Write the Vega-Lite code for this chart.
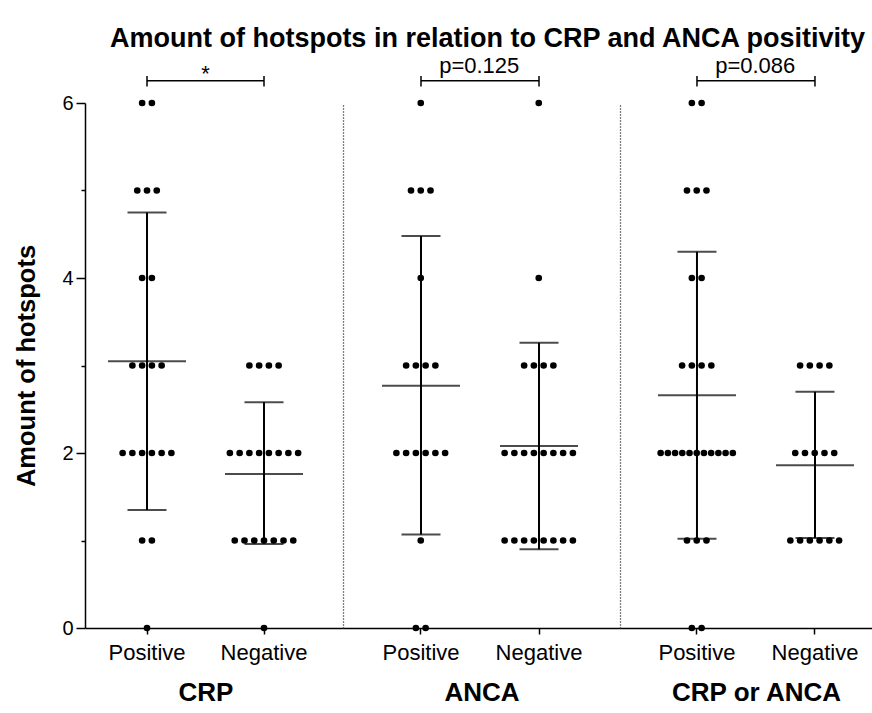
{
  "$schema": "https://vega.github.io/schema/vega-lite/v6.json",
  "padding": {"left": 14, "top": 25, "right": 0, "bottom": 0},
  "background": "white",
  "config": {
    "font": "Liberation Sans",
    "view": {"stroke": null},
    "axis": {"grid": false, "domainColor": "black", "tickColor": "black", "labelColor": "black", "titleColor": "black", "domainWidth": 1.5, "tickWidth": 1.5, "labelFont": "Liberation Sans", "titleFont": "Liberation Sans"}
  },
  "title": {"text": "Amount of hotspots in relation to CRP and ANCA positivity", "fontSize": 27, "fontWeight": "bold", "anchor": "middle", "color": "black", "offset": 2, "dx": 44},
  "datasets": {
    "dots": [
      {"g": "CRP", "s": "Positive", "v": 6}, {"g": "CRP", "s": "Positive", "v": 6},
      {"g": "CRP", "s": "Positive", "v": 5}, {"g": "CRP", "s": "Positive", "v": 5}, {"g": "CRP", "s": "Positive", "v": 5},
      {"g": "CRP", "s": "Positive", "v": 4}, {"g": "CRP", "s": "Positive", "v": 4},
      {"g": "CRP", "s": "Positive", "v": 3}, {"g": "CRP", "s": "Positive", "v": 3}, {"g": "CRP", "s": "Positive", "v": 3}, {"g": "CRP", "s": "Positive", "v": 3},
      {"g": "CRP", "s": "Positive", "v": 2}, {"g": "CRP", "s": "Positive", "v": 2}, {"g": "CRP", "s": "Positive", "v": 2}, {"g": "CRP", "s": "Positive", "v": 2}, {"g": "CRP", "s": "Positive", "v": 2}, {"g": "CRP", "s": "Positive", "v": 2},
      {"g": "CRP", "s": "Positive", "v": 1}, {"g": "CRP", "s": "Positive", "v": 1},
      {"g": "CRP", "s": "Positive", "v": 0},
      {"g": "CRP", "s": "Negative", "v": 3}, {"g": "CRP", "s": "Negative", "v": 3}, {"g": "CRP", "s": "Negative", "v": 3}, {"g": "CRP", "s": "Negative", "v": 3},
      {"g": "CRP", "s": "Negative", "v": 2}, {"g": "CRP", "s": "Negative", "v": 2}, {"g": "CRP", "s": "Negative", "v": 2}, {"g": "CRP", "s": "Negative", "v": 2}, {"g": "CRP", "s": "Negative", "v": 2}, {"g": "CRP", "s": "Negative", "v": 2}, {"g": "CRP", "s": "Negative", "v": 2}, {"g": "CRP", "s": "Negative", "v": 2},
      {"g": "CRP", "s": "Negative", "v": 1}, {"g": "CRP", "s": "Negative", "v": 1}, {"g": "CRP", "s": "Negative", "v": 1}, {"g": "CRP", "s": "Negative", "v": 1}, {"g": "CRP", "s": "Negative", "v": 1}, {"g": "CRP", "s": "Negative", "v": 1}, {"g": "CRP", "s": "Negative", "v": 1},
      {"g": "CRP", "s": "Negative", "v": 0},
      {"g": "ANCA", "s": "Positive", "v": 6},
      {"g": "ANCA", "s": "Positive", "v": 5}, {"g": "ANCA", "s": "Positive", "v": 5}, {"g": "ANCA", "s": "Positive", "v": 5},
      {"g": "ANCA", "s": "Positive", "v": 4},
      {"g": "ANCA", "s": "Positive", "v": 3}, {"g": "ANCA", "s": "Positive", "v": 3}, {"g": "ANCA", "s": "Positive", "v": 3}, {"g": "ANCA", "s": "Positive", "v": 3},
      {"g": "ANCA", "s": "Positive", "v": 2}, {"g": "ANCA", "s": "Positive", "v": 2}, {"g": "ANCA", "s": "Positive", "v": 2}, {"g": "ANCA", "s": "Positive", "v": 2}, {"g": "ANCA", "s": "Positive", "v": 2}, {"g": "ANCA", "s": "Positive", "v": 2},
      {"g": "ANCA", "s": "Positive", "v": 1},
      {"g": "ANCA", "s": "Positive", "v": 0}, {"g": "ANCA", "s": "Positive", "v": 0},
      {"g": "ANCA", "s": "Negative", "v": 6},
      {"g": "ANCA", "s": "Negative", "v": 4},
      {"g": "ANCA", "s": "Negative", "v": 3}, {"g": "ANCA", "s": "Negative", "v": 3}, {"g": "ANCA", "s": "Negative", "v": 3}, {"g": "ANCA", "s": "Negative", "v": 3},
      {"g": "ANCA", "s": "Negative", "v": 2}, {"g": "ANCA", "s": "Negative", "v": 2}, {"g": "ANCA", "s": "Negative", "v": 2}, {"g": "ANCA", "s": "Negative", "v": 2}, {"g": "ANCA", "s": "Negative", "v": 2}, {"g": "ANCA", "s": "Negative", "v": 2}, {"g": "ANCA", "s": "Negative", "v": 2}, {"g": "ANCA", "s": "Negative", "v": 2},
      {"g": "ANCA", "s": "Negative", "v": 1}, {"g": "ANCA", "s": "Negative", "v": 1}, {"g": "ANCA", "s": "Negative", "v": 1}, {"g": "ANCA", "s": "Negative", "v": 1}, {"g": "ANCA", "s": "Negative", "v": 1}, {"g": "ANCA", "s": "Negative", "v": 1}, {"g": "ANCA", "s": "Negative", "v": 1}, {"g": "ANCA", "s": "Negative", "v": 1},
      {"g": "CRP or ANCA", "s": "Positive", "v": 6}, {"g": "CRP or ANCA", "s": "Positive", "v": 6},
      {"g": "CRP or ANCA", "s": "Positive", "v": 5}, {"g": "CRP or ANCA", "s": "Positive", "v": 5}, {"g": "CRP or ANCA", "s": "Positive", "v": 5},
      {"g": "CRP or ANCA", "s": "Positive", "v": 4}, {"g": "CRP or ANCA", "s": "Positive", "v": 4},
      {"g": "CRP or ANCA", "s": "Positive", "v": 3}, {"g": "CRP or ANCA", "s": "Positive", "v": 3}, {"g": "CRP or ANCA", "s": "Positive", "v": 3}, {"g": "CRP or ANCA", "s": "Positive", "v": 3},
      {"g": "CRP or ANCA", "s": "Positive", "v": 2}, {"g": "CRP or ANCA", "s": "Positive", "v": 2}, {"g": "CRP or ANCA", "s": "Positive", "v": 2}, {"g": "CRP or ANCA", "s": "Positive", "v": 2}, {"g": "CRP or ANCA", "s": "Positive", "v": 2}, {"g": "CRP or ANCA", "s": "Positive", "v": 2}, {"g": "CRP or ANCA", "s": "Positive", "v": 2}, {"g": "CRP or ANCA", "s": "Positive", "v": 2}, {"g": "CRP or ANCA", "s": "Positive", "v": 2}, {"g": "CRP or ANCA", "s": "Positive", "v": 2}, {"g": "CRP or ANCA", "s": "Positive", "v": 2},
      {"g": "CRP or ANCA", "s": "Positive", "v": 1}, {"g": "CRP or ANCA", "s": "Positive", "v": 1}, {"g": "CRP or ANCA", "s": "Positive", "v": 1},
      {"g": "CRP or ANCA", "s": "Positive", "v": 0}, {"g": "CRP or ANCA", "s": "Positive", "v": 0},
      {"g": "CRP or ANCA", "s": "Negative", "v": 3}, {"g": "CRP or ANCA", "s": "Negative", "v": 3}, {"g": "CRP or ANCA", "s": "Negative", "v": 3}, {"g": "CRP or ANCA", "s": "Negative", "v": 3},
      {"g": "CRP or ANCA", "s": "Negative", "v": 2}, {"g": "CRP or ANCA", "s": "Negative", "v": 2}, {"g": "CRP or ANCA", "s": "Negative", "v": 2}, {"g": "CRP or ANCA", "s": "Negative", "v": 2}, {"g": "CRP or ANCA", "s": "Negative", "v": 2},
      {"g": "CRP or ANCA", "s": "Negative", "v": 1}, {"g": "CRP or ANCA", "s": "Negative", "v": 1}, {"g": "CRP or ANCA", "s": "Negative", "v": 1}, {"g": "CRP or ANCA", "s": "Negative", "v": 1}, {"g": "CRP or ANCA", "s": "Negative", "v": 1}, {"g": "CRP or ANCA", "s": "Negative", "v": 1}
    ],
    "stats": [
      {"g": "CRP", "s": "Positive", "mean": 3.05, "lo": 1.35, "hi": 4.75},
      {"g": "CRP", "s": "Negative", "mean": 1.76, "lo": 0.96, "hi": 2.58},
      {"g": "ANCA", "s": "Positive", "mean": 2.77, "lo": 1.07, "hi": 4.48},
      {"g": "ANCA", "s": "Negative", "mean": 2.08, "lo": 0.9, "hi": 3.26},
      {"g": "CRP or ANCA", "s": "Positive", "mean": 2.66, "lo": 1.02, "hi": 4.3},
      {"g": "CRP or ANCA", "s": "Negative", "mean": 1.86, "lo": 1.03, "hi": 2.7}
    ],
    "brackets": [
      {"g": "CRP", "a": "Positive", "b": "Negative", "y": 6.255, "ty": 6.25, "label": "*"},
      {"g": "ANCA", "a": "Positive", "b": "Negative", "y": 6.255, "ty": 6.34, "label": "p=0.125"},
      {"g": "CRP or ANCA", "a": "Positive", "b": "Negative", "y": 6.255, "ty": 6.34, "label": "p=0.086"}
    ],
    "ends": [
      {"g": "CRP", "s": "Positive", "y1": 6.19, "y2": 6.31},
      {"g": "CRP", "s": "Negative", "y1": 6.19, "y2": 6.31},
      {"g": "ANCA", "s": "Positive", "y1": 6.19, "y2": 6.31},
      {"g": "ANCA", "s": "Negative", "y1": 6.19, "y2": 6.31},
      {"g": "CRP or ANCA", "s": "Positive", "y1": 6.19, "y2": 6.31},
      {"g": "CRP or ANCA", "s": "Negative", "y1": 6.19, "y2": 6.31}
    ]
  },
  "hconcat": [
    {
      "width": 258, "height": 525,
      "encoding": {
        "x": {"field": "s", "type": "nominal", "scale": {"type": "band", "domain": ["Positive", "Negative"], "paddingInner": 0.5, "paddingOuter": 0.3526, "align": 0.397},
          "axis": {"title": "CRP", "titleFontSize": 26, "titleFontWeight": "bold", "titleX": 120.5, "labelFontSize": 22, "labelAngle": 0, "tickSize": 6, "labelPadding": 8, "titlePadding": 16}}
      },
      "layer": [
        {"data": {"name": "stats"}, "transform": [{"filter": "datum.g === 'CRP'"}], "mark": {"type": "rule", "color": "black", "strokeWidth": 2},
          "encoding": {"y": {"field": "lo", "type": "quantitative", "scale": {"domain": [0, 6], "nice": false},
            "axis": {"title": "Amount of hotspots", "titleFontSize": 25.5, "titleFontWeight": "bold", "titlePadding": 22, "values": [0, 1, 2, 3, 4, 5, 6], "format": "d", "labelExpr": "datum.value % 2 === 0 ? datum.label : ''", "labelFontSize": 20, "labelPadding": 3,
              "tickSize": {"condition": {"test": "datum.value % 2 === 0", "value": 9}, "value": 4}}},
            "y2": {"field": "hi"}}},
        {"data": {"name": "stats"}, "transform": [{"filter": "datum.g === 'CRP'"}], "mark": {"type": "tick", "color": "black", "thickness": 2, "size": 78}, "encoding": {"y": {"field": "mean", "type": "quantitative"}}},
        {"data": {"name": "stats"}, "transform": [{"filter": "datum.g === 'CRP'"}], "mark": {"type": "tick", "color": "black", "thickness": 2, "size": 39}, "encoding": {"y": {"field": "lo", "type": "quantitative"}}},
        {"data": {"name": "stats"}, "transform": [{"filter": "datum.g === 'CRP'"}], "mark": {"type": "tick", "color": "black", "thickness": 2, "size": 39}, "encoding": {"y": {"field": "hi", "type": "quantitative"}}},
        {"data": {"name": "dots"},
          "transform": [
            {"filter": "datum.g === 'CRP'"},
            {"window": [{"op": "row_number", "as": "rank"}], "groupby": ["g", "s", "v"]},
            {"joinaggregate": [{"op": "count", "as": "n"}], "groupby": ["g", "s", "v"]},
            {"calculate": "(datum.rank - (datum.n + 1) / 2) * min(1, 7.4 / max(1, datum.n - 1))", "as": "off"}
          ],
          "mark": {"type": "circle", "size": 44, "color": "black", "opacity": 1},
          "encoding": {"xOffset": {"field": "off", "type": "quantitative", "scale": {"domain": [-6, 6], "range": [-29.25, 87.75]}}, "y": {"field": "v", "type": "quantitative"}}},
        {"data": {"name": "brackets"}, "transform": [{"filter": "datum.g === 'CRP'"}], "mark": {"type": "rule", "color": "black", "strokeWidth": 1.5},
          "encoding": {"x": {"field": "a", "type": "nominal"}, "x2": {"field": "b"}, "y": {"field": "y", "type": "quantitative"}}},
        {"data": {"name": "ends"}, "transform": [{"filter": "datum.g === 'CRP'"}], "mark": {"type": "rule", "color": "black", "strokeWidth": 1.5},
          "encoding": {"y": {"field": "y1", "type": "quantitative"}, "y2": {"field": "y2"}}},
        {"data": {"name": "brackets"}, "transform": [{"filter": "datum.g === 'CRP'"}], "mark": {"type": "text", "fontSize": 22, "baseline": "alphabetic", "align": "center", "color": "black"},
          "encoding": {"x": {"field": "a", "type": "nominal"}, "xOffset": {"datum": 6, "type": "quantitative"}, "y": {"field": "ty", "type": "quantitative"}, "text": {"field": "label"}}}
      ]
    },
    {
      "width": 277, "height": 525,
      "encoding": {
        "x": {"field": "s", "type": "nominal", "scale": {"type": "band", "domain": ["Positive", "Negative"], "paddingInner": 0.5, "paddingOuter": 0.4237, "align": 0.485},
          "axis": {"title": "ANCA", "titleFontSize": 26, "titleFontWeight": "bold", "labelFontSize": 22, "labelAngle": 0, "tickSize": 6, "labelPadding": 8, "titlePadding": 16}}
      },
      "layer": [
        {"data": {"name": "stats"}, "transform": [{"filter": "datum.g === 'ANCA'"}], "mark": {"type": "rule", "color": "black", "strokeWidth": 2},
          "encoding": {"y": {"field": "lo", "type": "quantitative", "scale": {"domain": [0, 6], "nice": false},
            "axis": {"title": null, "labels": false, "ticks": false, "domainDash": [1, 2], "domainWidth": 1.3, "domainColor": "black"}},
            "y2": {"field": "hi"}}},
        {"data": {"name": "stats"}, "transform": [{"filter": "datum.g === 'ANCA'"}], "mark": {"type": "tick", "color": "black", "thickness": 2, "size": 78}, "encoding": {"y": {"field": "mean", "type": "quantitative"}}},
        {"data": {"name": "stats"}, "transform": [{"filter": "datum.g === 'ANCA'"}], "mark": {"type": "tick", "color": "black", "thickness": 2, "size": 39}, "encoding": {"y": {"field": "lo", "type": "quantitative"}}},
        {"data": {"name": "stats"}, "transform": [{"filter": "datum.g === 'ANCA'"}], "mark": {"type": "tick", "color": "black", "thickness": 2, "size": 39}, "encoding": {"y": {"field": "hi", "type": "quantitative"}}},
        {"data": {"name": "dots"},
          "transform": [
            {"filter": "datum.g === 'ANCA'"},
            {"window": [{"op": "row_number", "as": "rank"}], "groupby": ["g", "s", "v"]},
            {"joinaggregate": [{"op": "count", "as": "n"}], "groupby": ["g", "s", "v"]},
            {"calculate": "(datum.rank - (datum.n + 1) / 2) * min(1, 7.4 / max(1, datum.n - 1))", "as": "off"}
          ],
          "mark": {"type": "circle", "size": 44, "color": "black", "opacity": 1},
          "encoding": {"xOffset": {"field": "off", "type": "quantitative", "scale": {"domain": [-6, 6], "range": [-29, 88]}}, "y": {"field": "v", "type": "quantitative"}}},
        {"data": {"name": "brackets"}, "transform": [{"filter": "datum.g === 'ANCA'"}], "mark": {"type": "rule", "color": "black", "strokeWidth": 1.5},
          "encoding": {"x": {"field": "a", "type": "nominal"}, "x2": {"field": "b"}, "y": {"field": "y", "type": "quantitative"}}},
        {"data": {"name": "ends"}, "transform": [{"filter": "datum.g === 'ANCA'"}], "mark": {"type": "rule", "color": "black", "strokeWidth": 1.5},
          "encoding": {"y": {"field": "y1", "type": "quantitative"}, "y2": {"field": "y2"}}},
        {"data": {"name": "brackets"}, "transform": [{"filter": "datum.g === 'ANCA'"}], "mark": {"type": "text", "fontSize": 22, "baseline": "alphabetic", "align": "center", "color": "black"},
          "encoding": {"x": {"field": "a", "type": "nominal"}, "xOffset": {"datum": 6, "type": "quantitative"}, "y": {"field": "ty", "type": "quantitative"}, "text": {"field": "label"}}}
      ]
    },
    {
      "width": 252, "height": 525,
      "encoding": {
        "x": {"field": "s", "type": "nominal", "scale": {"type": "band", "domain": ["Positive", "Negative"], "paddingInner": 0.5, "paddingOuter": 0.3178, "align": 0.633},
          "axis": {"title": "CRP or ANCA", "titleFontSize": 26, "titleFontWeight": "bold", "titleX": 136, "labelFontSize": 22, "labelAngle": 0, "tickSize": 6, "labelPadding": 8, "titlePadding": 16}}
      },
      "layer": [
        {"data": {"name": "stats"}, "transform": [{"filter": "datum.g === 'CRP or ANCA'"}], "mark": {"type": "rule", "color": "black", "strokeWidth": 2},
          "encoding": {"y": {"field": "lo", "type": "quantitative", "scale": {"domain": [0, 6], "nice": false},
            "axis": {"title": null, "labels": false, "ticks": false, "domainDash": [1, 2], "domainWidth": 1.3, "domainColor": "black"}},
            "y2": {"field": "hi"}}},
        {"data": {"name": "stats"}, "transform": [{"filter": "datum.g === 'CRP or ANCA'"}], "mark": {"type": "tick", "color": "black", "thickness": 2, "size": 78}, "encoding": {"y": {"field": "mean", "type": "quantitative"}}},
        {"data": {"name": "stats"}, "transform": [{"filter": "datum.g === 'CRP or ANCA'"}], "mark": {"type": "tick", "color": "black", "thickness": 2, "size": 39}, "encoding": {"y": {"field": "lo", "type": "quantitative"}}},
        {"data": {"name": "stats"}, "transform": [{"filter": "datum.g === 'CRP or ANCA'"}], "mark": {"type": "tick", "color": "black", "thickness": 2, "size": 39}, "encoding": {"y": {"field": "hi", "type": "quantitative"}}},
        {"data": {"name": "dots"},
          "transform": [
            {"filter": "datum.g === 'CRP or ANCA'"},
            {"window": [{"op": "row_number", "as": "rank"}], "groupby": ["g", "s", "v"]},
            {"joinaggregate": [{"op": "count", "as": "n"}], "groupby": ["g", "s", "v"]},
            {"calculate": "(datum.rank - (datum.n + 1) / 2) * min(1, 7.4 / max(1, datum.n - 1))", "as": "off"}
          ],
          "mark": {"type": "circle", "size": 44, "color": "black", "opacity": 1},
          "encoding": {"xOffset": {"field": "off", "type": "quantitative", "scale": {"domain": [-6, 6], "range": [-29, 88]}}, "y": {"field": "v", "type": "quantitative"}}},
        {"data": {"name": "brackets"}, "transform": [{"filter": "datum.g === 'CRP or ANCA'"}], "mark": {"type": "rule", "color": "black", "strokeWidth": 1.5},
          "encoding": {"x": {"field": "a", "type": "nominal"}, "x2": {"field": "b"}, "y": {"field": "y", "type": "quantitative"}}},
        {"data": {"name": "ends"}, "transform": [{"filter": "datum.g === 'CRP or ANCA'"}], "mark": {"type": "rule", "color": "black", "strokeWidth": 1.5},
          "encoding": {"y": {"field": "y1", "type": "quantitative"}, "y2": {"field": "y2"}}},
        {"data": {"name": "brackets"}, "transform": [{"filter": "datum.g === 'CRP or ANCA'"}], "mark": {"type": "text", "fontSize": 22, "baseline": "alphabetic", "align": "center", "color": "black"},
          "encoding": {"x": {"field": "a", "type": "nominal"}, "xOffset": {"datum": 6, "type": "quantitative"}, "y": {"field": "ty", "type": "quantitative"}, "text": {"field": "label"}}}
      ]
    }
  ],
  "spacing": 0,
  "bounds": "flush"
}
